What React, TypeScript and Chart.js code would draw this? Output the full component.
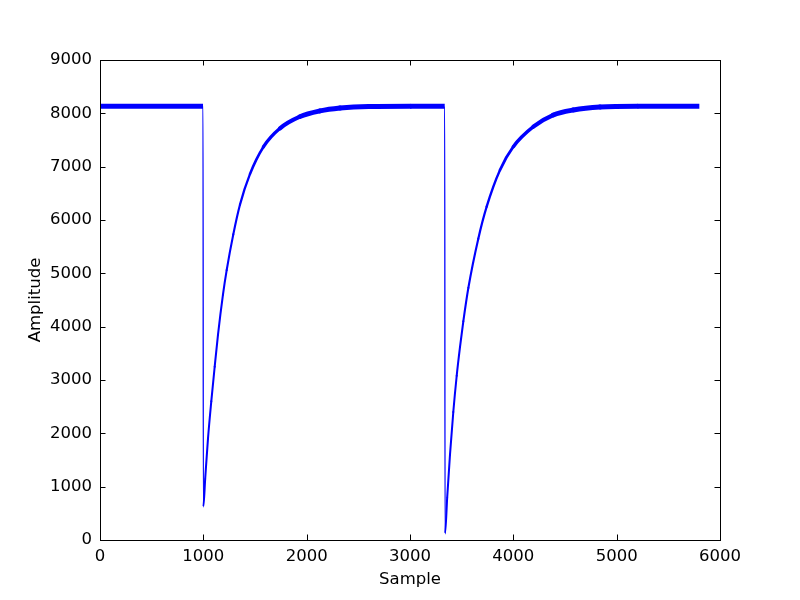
import React, { useEffect, useRef } from "react";
import { Chart, registerables } from "chart.js";

Chart.register(...registerables);

// Sample indices and amplitudes
const sampleIdx = [
  0, 997, 1000, 1018, 1045, 1077, 1110, 1142, 1190, 1226, 1290, 1355, 1452, 1581, 1742, 1935, 2129, 2323, 2600, 3000, 3336,
  3339, 3360, 3387, 3419, 3452, 3484, 3516, 3565, 3661, 3742, 3871, 4000, 4194, 4387, 4581, 4839, 5200, 5800,
];
const amplitude = [
  8135, 8135, 625, 1150, 1900, 2600, 3250, 3850, 4600, 5060, 5730, 6290, 6865, 7370, 7719, 7938, 8045, 8100, 8130, 8135, 8135,
  120, 800, 1600, 2400, 3080, 3620, 4100, 4730, 5650, 6250, 6938, 7375, 7750, 7969, 8063, 8120, 8135, 8135,
];
const xTickValues = [0, 1000, 2000, 3000, 4000, 5000, 6000];
const yTickValues = [0, 1000, 2000, 3000, 4000, 5000, 6000, 7000, 8000, 9000];
const xTitle = "Sample";
const yTitle = "Amplitude";

const FONT = "'DejaVu Sans', sans-serif";
const FONT_SIZE = 16.5;

const isDrop = (i: number) => i >= 0 && i + 1 < amplitude.length && amplitude[i] - amplitude[i + 1] > 5000;

const frameAndTicks = {
  id: "frameAndTicks",
  afterDraw(chart: any) {
    const { ctx, chartArea } = chart;
    const { left, right, top, bottom } = chartArea;
    const xs = chart.scales.x;
    const ys = chart.scales.y;
    const L = 5.5;
    ctx.save();
    ctx.strokeStyle = "#000";
    ctx.lineWidth = 1;
    ctx.beginPath();
    for (const v of xTickValues) {
      const px = Math.round(xs.getPixelForValue(v)) + 0.5;
      ctx.moveTo(px, bottom);
      ctx.lineTo(px, bottom - L);
      ctx.moveTo(px, top);
      ctx.lineTo(px, top + L);
    }
    for (const v of yTickValues) {
      const py = Math.round(ys.getPixelForValue(v)) + 0.5;
      ctx.moveTo(left, py);
      ctx.lineTo(left + L, py);
      ctx.moveTo(right, py);
      ctx.lineTo(right - L, py);
    }
    ctx.stroke();
    ctx.strokeRect(left + 0.5, top + 0.5, right - left, bottom - top);
    ctx.restore();
  },
};

export default function App() {
  const ref = useRef<HTMLCanvasElement | null>(null);
  useEffect(() => {
    if (!ref.current) return;
    Chart.defaults.font.family = FONT;
    Chart.defaults.font.size = FONT_SIZE;
    Chart.defaults.color = "#000";
    const data = sampleIdx.map((x, i) => ({ x, y: amplitude[i] }));
    const last = amplitude.length - 1;
    const chart = new Chart(ref.current, {
      type: "line",
      data: {
        datasets: [
          {
            data,
            borderColor: "#0000ff",
            backgroundColor: "#0000ff",
            pointRadius: 0,
            fill: false,
            cubicInterpolationMode: "monotone",
            borderWidth: 4,
            borderCapStyle: "butt",
            borderJoinStyle: "round",
            segment: {
              borderWidth: (c: any) => {
                if (isDrop(c.p0DataIndex)) return 1.3;
                const dx = c.p1.x - c.p0.x;
                const dy = c.p1.y - c.p0.y;
                const len = Math.sqrt(dx * dx + dy * dy) || 1;
                const cos = Math.abs(dx) / len;
                return 2 + 3 * cos * cos;
              },
              borderCapStyle: (c: any) => {
                const i0 = c.p0DataIndex;
                const i1 = c.p1DataIndex;
                if (i0 === 0 || i1 === last || isDrop(i0) || isDrop(i1) || isDrop(i0 - 1)) return "butt";
                return "round";
              },
            },
          },
        ],
      },
      options: {
        animation: false,
        responsive: false,
        parsing: false,
        layout: { padding: { left: 0, right: 80, top: 60, bottom: 0 } },
        plugins: { legend: { display: false }, tooltip: { enabled: false } },
        scales: {
          x: {
            type: "linear",
            min: 0,
            max: 6000,
            grid: { display: true, drawOnChartArea: false, drawTicks: false },
            border: { display: false },
            ticks: { padding: 7, maxRotation: 0, callback: (v: any) => String(v) },
            afterBuildTicks: (s: any) => {
              s.ticks = xTickValues.map((v) => ({ value: v }));
            },
            afterFit: (s: any) => {
              s.height = 60;
            },
            title: { display: true, text: xTitle, padding: { top: 0, bottom: 10 }, font: { size: FONT_SIZE } },
          },
          y: {
            type: "linear",
            min: 0,
            max: 9000,
            grid: { display: true, drawOnChartArea: false, drawTicks: false },
            border: { display: false },
            ticks: { padding: 8, callback: (v: any) => String(v) },
            afterBuildTicks: (s: any) => {
              s.ticks = yTickValues.map((v) => ({ value: v }));
            },
            afterFit: (s: any) => {
              s.width = 100;
            },
            title: { display: true, text: yTitle, padding: { top: 26, bottom: 0 }, font: { size: FONT_SIZE } },
          },
        },
      },
      plugins: [frameAndTicks],
    } as any);
    return () => chart.destroy();
  }, []);
  return (
    <div style={{ position: "absolute", left: 0, top: 0, width: 800, height: 600, background: "#fff" }}>
      <canvas ref={ref} width={800} height={600} style={{ display: "block" }} />
    </div>
  );
}
